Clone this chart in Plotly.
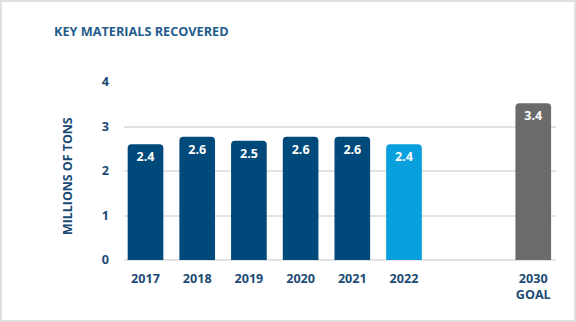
import plotly.graph_objects as go

categories = ["2017", "2018", "2019", "2020", "2021", "2022", "2030<br>GOAL"]
positions = [0, 1, 2, 3, 4, 5, 7.5]
bar_heights = [2.60, 2.77, 2.68, 2.77, 2.77, 2.60, 3.52]
value_labels = ["2.4", "2.6", "2.5", "2.6", "2.6", "2.4", "3.4"]
bar_colors = ["#00497b", "#00497b", "#00497b", "#00497b", "#00497b", "#0a9fdd", "#6b6b6b"]

W, H = 576, 322
ml, mr, mt, mb = 124, 20, 82, 62
pw, ph = W - ml - mr, H - mt - mb

FONT = "Open Sans"
DARK = "#1b4a74"

fig = go.Figure(
    go.Bar(
        x=positions,
        y=bar_heights,
        width=0.69,
        marker=dict(color=bar_colors, cornerradius=4, line=dict(width=0)),
        text=value_labels,
        textposition="inside",
        insidetextanchor="end",
        textfont=dict(family=FONT, size=12.5, color="white", weight="bold"),
        hoverinfo="skip",
    )
)

fig.update_layout(
    width=W,
    height=H,
    margin=dict(l=ml, r=mr, t=mt, b=mb),
    paper_bgcolor="white",
    plot_bgcolor="white",
    showlegend=False,
    uniformtext=dict(minsize=8, mode="show"),
    title=dict(
        text="KEY MATERIALS RECOVERED",
        x=54 / W,
        xanchor="left",
        xref="container",
        y=1 - 32 / H,
        yanchor="middle",
        yref="container",
        font=dict(family=FONT, size=12.7, color="#1f5c8d", weight="bold"),
    ),
    xaxis=dict(
        range=[-0.416, 7.94],
        tickvals=positions,
        ticktext=["<b>%s</b>" % c for c in categories],
        tickfont=dict(family=FONT, size=12.6, color=DARK),
        showgrid=False,
        zeroline=False,
        showline=False,
        ticks="",
        ticklabelstandoff=9,
        fixedrange=True,
    ),
    yaxis=dict(
        range=[0, 4],
        tickvals=[0, 1, 2, 3, 4],
        ticktext=["<b>%d</b>" % v for v in [0, 1, 2, 3, 4]],
        tickfont=dict(family=FONT, size=12.6, color=DARK),
        showgrid=True,
        gridcolor="#e3e3e3",
        gridwidth=1.5,
        zeroline=True,
        zerolinecolor="#e3e3e3",
        zerolinewidth=1.5,
        ticks="",
        ticklabelstandoff=14,
        fixedrange=True,
    ),
    annotations=[
        dict(
            text="<b>MILLIONS OF TONS</b>",
            xref="paper",
            yref="paper",
            x=(67 - ml) / pw,
            y=(H - mb - 176) / ph,
            xanchor="center",
            yanchor="middle",
            textangle=-90,
            showarrow=False,
            font=dict(family=FONT, size=12.4, color=DARK),
        )
    ],
    shapes=[
        dict(
            type="rect",
            xref="paper",
            yref="paper",
            x0=(1 - ml) / pw,
            x1=(W - 1 - ml) / pw,
            y0=-(mb - 1) / ph,
            y1=1 + (mt - 1) / ph,
            line=dict(color="#e0e0e0", width=2),
            layer="above",
        )
    ],
)

fig.write_html("out.html")
